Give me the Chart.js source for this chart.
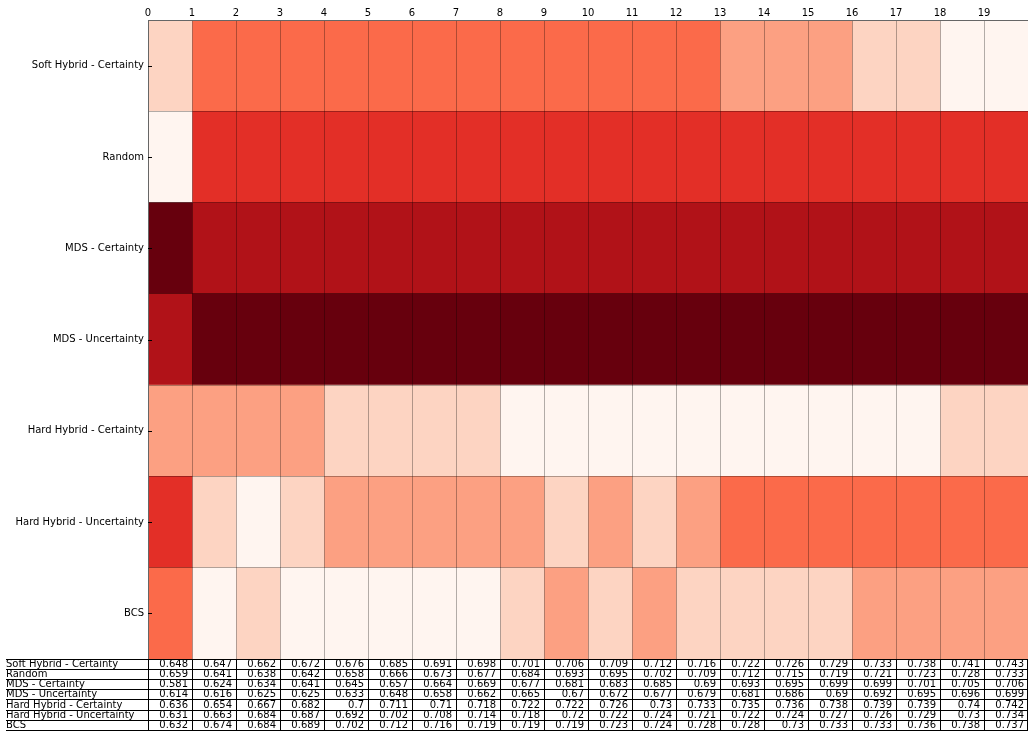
<!DOCTYPE html>
<html>
<head>
<meta charset="utf-8">
<title>Accuracy by round</title>
<script src="https://cdn.jsdelivr.net/npm/chart.js@4.4.1/dist/chart.umd.min.js"></script>
<style>
  html, body { margin: 0; padding: 0; background: #fff; }
  #wrap { position: relative; width: 1028px; height: 738px; overflow: hidden; }
  #heat { position: absolute; left: 0; top: 0; }
  .txt { position: absolute; font: 10px "DejaVu Sans", sans-serif; color: #000; line-height: 10px; white-space: nowrap; }
  .hl { position: absolute; height: 1px; background: #000; }
  .vl { position: absolute; width: 1px; background: #000; }
</style>
</head>
<body>
<div id="wrap">
  <canvas id="heat" width="1028" height="659"></canvas>
  <div id="table"></div>
</div>
<script>
// Query strategies (rows, top to bottom)
const methods = [
  'Soft Hybrid - Certainty',
  'Random',
  'MDS - Certainty',
  'MDS - Uncertainty',
  'Hard Hybrid - Certainty',
  'Hard Hybrid - Uncertainty',
  'BCS'
];

// Rounds (columns)
const rounds = [0, 1, 2, 3, 4, 5, 6, 7, 8, 9, 10, 11, 12, 13, 14, 15, 16, 17, 18, 19];

// Score per round for each strategy
const softHybridCertainty   = [0.648, 0.647, 0.662, 0.672, 0.676, 0.685, 0.691, 0.698, 0.701, 0.706, 0.709, 0.712, 0.716, 0.722, 0.726, 0.729, 0.733, 0.738, 0.741, 0.743];
const random                = [0.659, 0.641, 0.638, 0.642, 0.658, 0.666, 0.673, 0.677, 0.684, 0.693, 0.695, 0.702, 0.709, 0.712, 0.715, 0.719, 0.721, 0.723, 0.728, 0.733];
const mdsCertainty          = [0.581, 0.624, 0.634, 0.641, 0.645, 0.657, 0.664, 0.669, 0.677, 0.681, 0.683, 0.685, 0.69, 0.693, 0.695, 0.699, 0.699, 0.701, 0.705, 0.706];
const mdsUncertainty        = [0.614, 0.616, 0.625, 0.625, 0.633, 0.648, 0.658, 0.662, 0.665, 0.67, 0.672, 0.677, 0.679, 0.681, 0.686, 0.69, 0.692, 0.695, 0.696, 0.699];
const hardHybridCertainty   = [0.636, 0.654, 0.667, 0.682, 0.7, 0.711, 0.71, 0.718, 0.722, 0.722, 0.726, 0.73, 0.733, 0.735, 0.736, 0.738, 0.739, 0.739, 0.74, 0.742];
const hardHybridUncertainty = [0.631, 0.663, 0.684, 0.687, 0.692, 0.702, 0.708, 0.714, 0.718, 0.72, 0.722, 0.724, 0.721, 0.722, 0.724, 0.727, 0.726, 0.729, 0.73, 0.734];
const bcs                   = [0.632, 0.674, 0.684, 0.689, 0.702, 0.712, 0.716, 0.719, 0.719, 0.719, 0.723, 0.724, 0.728, 0.728, 0.73, 0.733, 0.733, 0.736, 0.738, 0.737];

const seriesByMethod = [softHybridCertainty, random, mdsCertainty, mdsUncertainty,
                        hardHybridCertainty, hardHybridUncertainty, bcs];

// Reds colour scale, one step per rank (worst = darkest)
const palette = ['#67000d', '#b11218', '#e32f27', '#fb6a4a', '#fca082', '#fdd4c2', '#fff5f0'];

// Rank of every strategy within one round; equal scores give the later row the lower rank
function rankColumn(col) {
  const order = seriesByMethod
    .map((s, r) => ({ r, v: s[col] }))
    .sort((a, b) => (a.v - b.v) || (b.r - a.r));
  const rank = [];
  order.forEach((o, k) => { rank[o.r] = k; });
  return rank;
}
const ranks = rounds.map((c, ci) => rankColumn(ci));

// One floating-bar dataset per round: each cell spans [round, round + 1]
const datasets = rounds.map((c, ci) => ({
  data: methods.map(() => [c, c + 1]),
  backgroundColor: methods.map((m, r) => palette[ranks[ci][r]]),
  borderWidth: 0,
  grouped: false,
  categoryPercentage: 1,
  barPercentage: 1
}));

const font = { family: 'DejaVu Sans', size: 10 };

// Axes hug the plot: no extra room reserved for overhanging labels
function noPadding(s) {
  s.paddingLeft = 0; s.paddingRight = 0; s.paddingTop = 0; s.paddingBottom = 0;
}

// Small inward tick marks at the centre of each row
const rowTicks = {
  id: 'rowTicks',
  afterDraw(chart) {
    const { ctx, chartArea } = chart;
    const ys = chart.scales.y;
    ctx.save();
    ctx.strokeStyle = '#000';
    ctx.lineWidth = 1;
    methods.forEach((m, i) => {
      const y = Math.round(ys.getPixelForValue(i)) + 0.5;
      ctx.beginPath();
      ctx.moveTo(chartArea.left, y);
      ctx.lineTo(chartArea.left + 4, y);
      ctx.stroke();
    });
    ctx.restore();
  }
};

const chart = new Chart(document.getElementById('heat'), {
  type: 'bar',
  data: { labels: methods, datasets },
  options: {
    indexAxis: 'y',
    responsive: false,
    maintainAspectRatio: false,
    animation: false,
    layout: { padding: 0 },
    plugins: { legend: { display: false }, tooltip: { enabled: false } },
    scales: {
      x: {
        type: 'linear',
        position: 'top',
        min: 0,
        max: 20,
        offset: false,
        grid: { color: 'rgba(0,0,0,0.3)', lineWidth: 1, drawTicks: false, z: 1 },
        border: { display: true, color: '#666', z: 2 },
        ticks: {
          stepSize: 1,
          autoSkip: false,
          maxRotation: 0,
          padding: 1,
          color: '#000',
          font,
          callback: v => (v < rounds.length ? String(rounds[v]) : '')
        },
        afterFit: s => { s.height = 20; noPadding(s); }
      },
      y: {
        type: 'category',
        offset: true,
        grid: { color: 'rgba(0,0,0,0.3)', lineWidth: 1, offset: true, drawTicks: false, z: 1 },
        border: { display: true, color: '#666', z: 2 },
        ticks: { padding: 4, color: '#000', font },
        afterFit: s => { s.width = 148; noPadding(s); }
      }
    }
  },
  plugins: [rowTicks]
});

// Score table under the heat map, columns aligned with the round axis
(function buildTable() {
  const host = document.getElementById('table');
  const xs = chart.scales.x;
  const top0 = chart.chartArea.bottom;
  const rowH = 10.2;
  const tableLeft = 6;
  const tableRight = Math.round(xs.getPixelForValue(rounds.length));

  const add = (cls, css, text) => {
    const d = document.createElement('div');
    d.className = cls;
    Object.assign(d.style, css);
    if (text !== undefined) d.textContent = text;
    host.appendChild(d);
  };

  for (let k = 0; k <= methods.length; k++) {
    add('hl', { left: tableLeft + 'px', width: (tableRight - tableLeft) + 'px',
                top: Math.round(top0 + k * rowH - 0.5) + 'px' });
  }
  for (let c = 0; c <= rounds.length; c++) {
    const x = Math.min(Math.round(xs.getPixelForValue(c)), tableRight - 1);
    add('vl', { left: x + 'px', top: Math.round(top0 - 0.5) + 'px',
                height: Math.round(methods.length * rowH) + 'px' });
  }

  methods.forEach((m, r) => {
    const rowTop = top0 + r * rowH;
    add('txt', { left: '6px', top: (rowTop - 0.2) + 'px' }, m);
    seriesByMethod[r].forEach((v, c) => {
      const x0 = xs.getPixelForValue(c);
      const x1 = xs.getPixelForValue(c + 1);
      add('txt', { left: x0 + 'px', width: (x1 - x0 - 4) + 'px', textAlign: 'right',
                   top: (rowTop - 0.2) + 'px' }, String(v));
    });
  });
})();
</script>
</body>
</html>
